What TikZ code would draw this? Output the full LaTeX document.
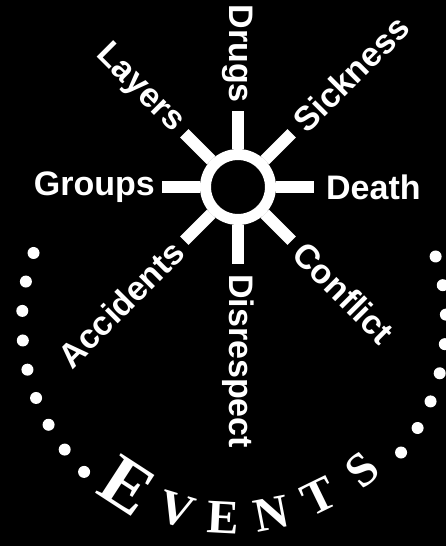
\documentclass[tikz,border=0pt]{standalone}
\usepackage{fontspec}
\setmainfont{Liberation Sans}
\newfontfamily\evserif{Liberation Serif}
\usepackage{tikz}
\usetikzlibrary{positioning,calc}

\begin{document}
\begin{tikzpicture}[x=1pt, y=1pt,
        ring/.style={circle, draw=white, line width=11pt, minimum size=65pt, inner sep=0pt},
        spoke/.style={draw=white, line width=12pt},
        word/.style={text=white, inner sep=0pt, font=\fontsize{34}{40}\selectfont\bfseries},
        bigcap/.style={text=white, inner sep=0pt, font=\fontsize{72}{76}\selectfont\evserif\bfseries},
        smallcap/.style={text=white, inner sep=0pt, font=\fontsize{48}{52}\selectfont\evserif\bfseries},
        dots/.style={draw=white, line width=12pt, line cap=round, dash pattern=on 0pt off 29.6pt}
    ]
        % background
        \fill[black] (-238,-359) rectangle (208,187);
        \useasboundingbox (-238,-359) rectangle (208,187);

        % hub and spokes
        \node[ring] (hub) at (0,0) {};
        \coordinate (t0) at (0:76);
        \coordinate (t45) at (45:76);
        \coordinate (t90) at (90:76);
        \coordinate (t135) at (135:76);
        \coordinate (t180) at (180:76);
        \coordinate (t225) at (225:76);
        \coordinate (t270) at (270:77);
        \coordinate (t315) at (315:76);
        \draw[spoke] (hub.0) -- (t0);
        \draw[spoke] (hub.45) -- (t45);
        \draw[spoke] (hub.90) -- (t90);
        \draw[spoke] (hub.135) -- (t135);
        \draw[spoke] (hub.180) -- (t180);
        \draw[spoke] (hub.225) -- (t225);
        \draw[spoke] (hub.270) -- (t270);
        \draw[spoke] (hub.315) -- (t315);

        % labels, right half
        \node[word, anchor=west] (death) at (0:88) {Death};
        \node[word, anchor=west, rotate=45] (sickness) at (45:86) {Sickness};
        \node[word, anchor=west, rotate=-45] (conflict) at (315:86) {Conflict};
        \node[word, anchor=west, rotate=-90] (disrespect) at (270:87) {Disrespect};

        % labels, left half
        \node[word, anchor=east, rotate=-90] (drugs) at (90:84) {Drugs};
        \node[word, anchor=east, rotate=-45] (layers) at (135:84) {Layers};
        \node[word, anchor=east] (groups) at (180:83) {Groups};
        \node[word, anchor=east, rotate=45] (accidents) at (225:84) {Accidents};

        % dotted arc
        \coordinate (arc) at (-4,-135);
        \draw[dots] ($(arc)+(161:212)$) arc[start angle=161, end angle=226, radius=212];
        \draw[dots] ($(arc)+(18:212)$) arc[start angle=18, end angle=-39, radius=212];

        % EVENTS
        \node[bigcap, rotate=-33] (e1) at ($(arc)+(-123:195)$) {E};
        \node[smallcap, rotate=-17] (v) at ($(arc)+(-107:196)$) {V};
        \node[smallcap, rotate=-3] (e2) at ($(arc)+(-93:196)$) {E};
        \node[smallcap, rotate=11] (n) at ($(arc)+(-79:195)$) {N};
        \node[smallcap, rotate=26] (t) at ($(arc)+(-64:194)$) {T};
        \node[smallcap, rotate=41] (s) at ($(arc)+(-49:196)$) {S};
    \end{tikzpicture}
\end{document}
